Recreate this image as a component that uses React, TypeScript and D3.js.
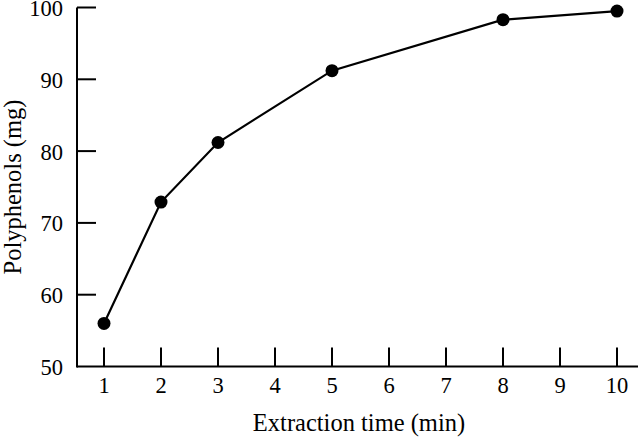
import React from 'react';
import { scaleLinear, line } from 'd3';

const times = [1, 2, 3, 5, 8, 10];
const polyphenols = [56, 72.9, 81.2, 91.2, 98.3, 99.5];
const xTicks = [1, 2, 3, 4, 5, 6, 7, 8, 9, 10];
const yTicks = [50, 60, 70, 80, 90, 100];

const App = () => {
    const width = 640;
    const height = 438;
    const x = scaleLinear().domain([1, 10]).range([104, 617]);
    const y = scaleLinear().domain([50, 100]).range([366.5, 7.5]);
    const axisX0 = 77;
    const tickLen = 19;
    const font = '"Liberation Serif", "Times New Roman", serif';

    const path = line<number>()
        .x((d, i) => x(times[i]))
        .y(d => y(d))(polyphenols);

    return (
        <svg width={width} height={height}
            style={{ position: 'absolute', left: 0, top: 0, background: '#fff' }}
            fontFamily={font}>
            {/* axes */}
            <line x1={axisX0} x2={638} y1={y(50)} y2={y(50)} stroke="#000" strokeWidth={2} />
            <line x1={axisX0} x2={axisX0} y1={y(50) + 1} y2={y(100)} stroke="#000" strokeWidth={2} />
            {yTicks.map(t => (
                <g key={'y' + t}>
                    {t !== 50 && <line x1={axisX0} x2={axisX0 + tickLen} y1={y(t)} y2={y(t)} stroke="#000" strokeWidth={2} />}
                    <text x={63} y={y(t) + 8.5} textAnchor="end" fontSize={22.5}>{t}</text>
                </g>
            ))}
            {xTicks.map(t => (
                <g key={'x' + t}>
                    <line x1={x(t)} x2={x(t)} y1={y(50)} y2={y(50) - tickLen} stroke="#000" strokeWidth={2} />
                    <text x={x(t)} y={393} textAnchor="middle" fontSize={22.5}>{t}</text>
                </g>
            ))}
            <text x={359} y={431} textAnchor="middle" fontSize={24.5}>Extraction time (min)</text>
            <text transform={`translate(21, ${y(75)}) rotate(-90)`} textAnchor="middle" fontSize={24.5}>Polyphenols (mg)</text>
            {/* data */}
            <path d={path ?? ''} fill="none" stroke="#000" strokeWidth={2.2} />
            {polyphenols.map((v, i) => (
                <circle key={i} cx={x(times[i])} cy={y(v)} r={6.5} fill="#000" />
            ))}
        </svg>
    );
};

export default App;
